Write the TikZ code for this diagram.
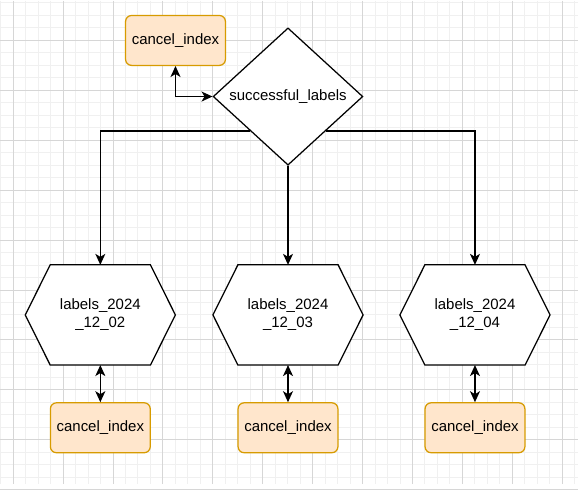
\documentclass[tikz,border=0pt]{standalone}
\usepackage{fontspec}
\setmainfont{Liberation Sans}
\usetikzlibrary{shapes.geometric,arrows.meta}
\definecolor{idxfill}{HTML}{FFE6CC}
\definecolor{idxline}{HTML}{D79B00}
\definecolor{gridminor}{HTML}{F0F0F0}
\definecolor{gridmajor}{HTML}{D6D6D6}
\begin{document}
\begin{tikzpicture}[x=1pt,y=-1pt,
        font=\fontsize{15}{18}\selectfont,
        idx/.style={draw=idxline,fill=idxfill,rectangle,rounded corners=6pt,line width=1.25pt,minimum width=100pt,minimum height=50pt,inner sep=0pt},
        cond/.style={draw=black,fill=white,diamond,shape aspect=1.09,line width=1.25pt,minimum width=150pt,minimum height=137.5pt,inner sep=0pt},
        hexa/.style={rectangle,minimum width=150pt,minimum height=100pt,inner sep=0pt,align=center},
        hexline/.style={draw=black,fill=white,line width=1.25pt,line join=miter},
        link/.style={draw=black,line width=1.4pt,arrows={-Stealth[length=11pt,width=10pt,inset=3pt]}},
        dlink/.style={link,arrows={Stealth[length=11pt,width=10pt,inset=3pt]-Stealth[length=11pt,width=10pt,inset=3pt]}}
      ]
      \fill[white] (0,0) rectangle (578,484);
      \foreach \k in {0,...,46} \draw[gridminor,line width=1pt] ({0.2+12.5*\k},0) -- ({0.2+12.5*\k},484);
      \foreach \k in {0,...,38} \draw[gridminor,line width=1pt] (0,{2.5+12.5*\k}) -- (578,{2.5+12.5*\k});
      \foreach \k in {0,...,11} \draw[gridmajor,line width=1pt] ({12.7+50*\k},0) -- ({12.7+50*\k},484);
      \foreach \k in {0,...,9} \draw[gridmajor,line width=1pt] (0,{40+50*\k}) -- (578,{40+50*\k});
      \useasboundingbox (0,0) rectangle (578,484);

      \node[idx] (ci0) at (175.3,40) {cancel\_index};
      \node[cond] (succ) at (288,96.2) {successful\_labels};

      \node[hexa] (h1) at (100,315) {};
      \node[hexa] (h2) at (288,315) {};
      \node[hexa] (h3) at (475.3,315) {};
      \foreach \n in {h1,h2,h3}
        \draw[hexline] ([xshift=25pt]\n.north west) -- ([xshift=-25pt]\n.north east) -- (\n.east)
          -- ([xshift=-25pt]\n.south east) -- ([xshift=25pt]\n.south west) -- (\n.west) -- cycle;
      \node[align=center] (t1) at (h1) {labels\_2024\\\_12\_02};
      \node[align=center] (t2) at (h2) {labels\_2024\\\_12\_03};
      \node[align=center] (t3) at (h3) {labels\_2024\\\_12\_04};

      \node[idx] (ci1) at (100,428) {cancel\_index};
      \node[idx] (ci2) at (288,428) {cancel\_index};
      \node[idx] (ci3) at (475.3,428) {cancel\_index};

      \draw[dlink] (ci0.south) |- (succ.west);
      \draw[link] (succ.south) -- (h2.north);
      \draw[link] (succ.south west) -| (h1.north);
      \draw[link] (succ.south east) -| (h3.north);
      \foreach \i in {1,2,3}
        \draw[dlink] (h\i.south) -- (ci\i.north);
    \end{tikzpicture}
\end{document}
